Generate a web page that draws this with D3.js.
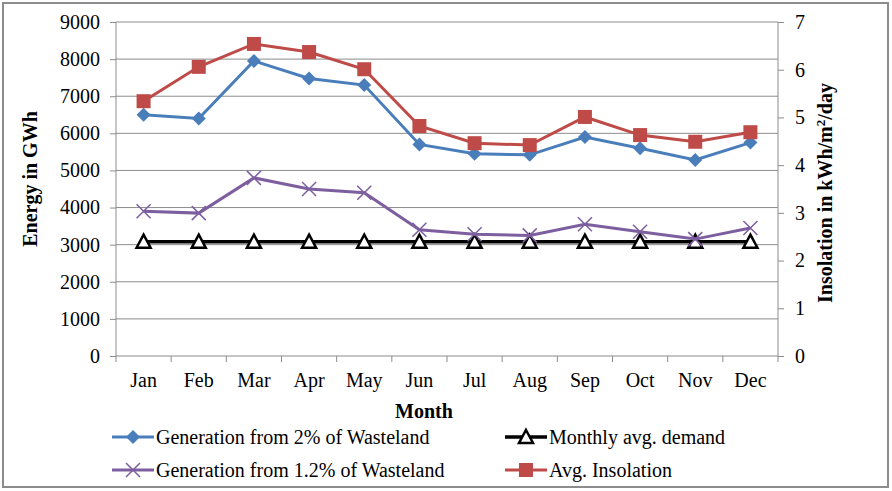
<!DOCTYPE html>
<html>
<head>
<meta charset="utf-8">
<script src="https://cdn.jsdelivr.net/npm/d3@7"></script>
<style>
  body { margin: 0; background: #fff; }
  text { font-family: "Liberation Serif", "Times New Roman", serif; fill: #000; }
</style>
</head>
<body>
<div id="chart"></div>
<script>
const months = ["Jan", "Feb", "Mar", "Apr", "May", "Jun", "Jul", "Aug", "Sep", "Oct", "Nov", "Dec"];
const gen2 = [6500, 6400, 7950, 7480, 7300, 5700, 5450, 5420, 5900, 5600, 5280, 5750];
const gen12 = [3900, 3850, 4800, 4500, 4400, 3400, 3280, 3250, 3550, 3350, 3150, 3450];
const demand = [3080, 3080, 3080, 3080, 3080, 3080, 3080, 3080, 3080, 3080, 3080, 3080];
const insolation = [5.34, 6.06, 6.54, 6.37, 6.01, 4.82, 4.46, 4.42, 5.01, 4.63, 4.49, 4.69];
const leftTicks = [0, 1000, 2000, 3000, 4000, 5000, 6000, 7000, 8000, 9000];
const rightTicks = [0, 1, 2, 3, 4, 5, 6, 7];

const width = 892, height = 491;
const plot = { left: 116, right: 778, top: 22, bottom: 356 };
const fs = 20;

const svg = d3.select("#chart").append("svg")
  .attr("width", width).attr("height", height);

// outer frame
svg.append("rect")
  .attr("x", 3).attr("y", 3).attr("width", width - 7).attr("height", height - 7)
  .attr("fill", "#fff").attr("stroke", "#8c8c8c").attr("stroke-width", 2);

const x = d3.scaleBand().domain(months).range([plot.left, plot.right]);
const yL = d3.scaleLinear().domain([0, 9000]).range([plot.bottom, plot.top]);
const yR = d3.scaleLinear().domain([0, 7]).range([plot.bottom, plot.top]);
const cx = m => x(m) + x.bandwidth() / 2;

// gridlines
svg.append("g").selectAll("line").data(leftTicks.slice(1)).enter().append("line")
  .attr("x1", plot.left).attr("x2", plot.right)
  .attr("y1", d => yL(d)).attr("y2", d => yL(d))
  .attr("stroke", "#8c8c8c").attr("stroke-width", 1);

// axes
const axL = svg.append("g").attr("transform", `translate(${plot.left},0)`)
  .call(d3.axisLeft(yL).tickValues(leftTicks).tickFormat(d3.format("d")).tickSize(6).tickPadding(10));
const axR = svg.append("g").attr("transform", `translate(${plot.right},0)`)
  .call(d3.axisRight(yR).tickValues(rightTicks).tickFormat(d3.format("d")).tickSize(6).tickPadding(11));
const axB = svg.append("g").attr("transform", `translate(0,${plot.bottom})`)
  .call(d3.axisBottom(x).tickSize(0).tickPadding(17));
axB.selectAll(".tick line").remove();
axB.append("g").selectAll("line").data(d3.range(13)).enter().append("line")
  .attr("x1", i => plot.left + i * x.bandwidth()).attr("x2", i => plot.left + i * x.bandwidth())
  .attr("y1", 0).attr("y2", 6).attr("stroke", "#8c8c8c");

[axL, axR, axB].forEach(a => {
  a.attr("font-family", null).attr("font-size", null);
  a.select(".domain").attr("stroke", "#8c8c8c");
  a.selectAll(".tick line").attr("stroke", "#8c8c8c");
  a.selectAll("text").attr("font-size", fs).attr("fill", "#000");
});
axL.select(".domain").attr("d", `M0,${plot.bottom}V${plot.top}`);
axR.select(".domain").attr("d", `M0,${plot.bottom}V${plot.top}`);
axB.select(".domain").attr("d", `M${plot.left},0H${plot.right}`);

// axis titles
svg.append("text").attr("transform", `translate(37,179) rotate(-90)`)
  .attr("text-anchor", "middle").attr("font-size", fs).attr("font-weight", "bold")
  .text("Energy in GWh");
const rt = svg.append("text").attr("transform", `translate(832,193) rotate(-90)`)
  .attr("text-anchor", "middle").attr("font-size", fs).attr("font-weight", "bold");
rt.append("tspan").text("Insolation in kWh/m");
rt.append("tspan").attr("font-size", 13).attr("dy", -7).text("2");
rt.append("tspan").attr("dy", 7).text("/day");
svg.append("text").attr("x", 424).attr("y", 418).attr("text-anchor", "middle")
  .attr("font-size", fs).attr("font-weight", "bold").text("Month");

// markers
function drawMarker(g, type, color) {
  if (type === "diamond") {
    g.append("path").attr("d", "M0,-7L7,0L0,7L-7,0Z").attr("fill", color);
  } else if (type === "square") {
    g.append("rect").attr("x", -7).attr("y", -7).attr("width", 14).attr("height", 14).attr("fill", color);
  } else if (type === "triangle") {
    g.append("path").attr("d", "M0,-7L7,6L-7,6Z").attr("fill", "#fff")
      .attr("stroke", color).attr("stroke-width", 2.5);
  } else if (type === "x") {
    g.append("path").attr("d", "M-7,-7L7,7M-7,7L7,-7").attr("stroke", color).attr("stroke-width", 1.5);
  }
}

const series = [
  { name: "Generation from 2% of Wasteland", values: gen2, y: yL, color: "#4a7ebb", marker: "diamond", w: 3 },
  { name: "Generation from 1.2% of Wasteland", values: gen12, y: yL, color: "#7d5fa0", marker: "x", w: 3 },
  { name: "Monthly avg. demand", values: demand, y: yL, color: "#000", marker: "triangle", w: 3.5 },
  { name: "Avg. Insolation", values: insolation, y: yR, color: "#be4b48", marker: "square", w: 3 }
];

const drawOrder = [series[2], series[1], series[0], series[3]];
drawOrder.forEach(s => {
  const line = d3.line().x((d, i) => cx(months[i])).y(d => s.y(d));
  svg.append("path").datum(s.values).attr("d", line)
    .attr("fill", "none").attr("stroke", s.color).attr("stroke-width", s.w);
  s.values.forEach((v, i) => {
    const g = svg.append("g").attr("transform", `translate(${cx(months[i])},${s.y(v)})`);
    drawMarker(g, s.marker, s.color);
  });
});

// legend
const legendPos = [[112, 437], [505, 437], [112, 470], [505, 470]];
const legendSeries = [series[0], series[2], series[1], series[3]];
legendSeries.forEach((s, i) => {
  const [lx, ly] = legendPos[i];
  const g = svg.append("g").attr("transform", `translate(${lx},${ly})`);
  g.append("line").attr("x1", 0).attr("x2", 42).attr("y1", 0).attr("y2", 0)
    .attr("stroke", s.color).attr("stroke-width", s.w);
  drawMarker(g.append("g").attr("transform", "translate(21,0)"), s.marker, s.color);
  g.append("text").attr("x", 44).attr("y", 7).attr("font-size", fs).text(s.name);
});
</script>
</body>
</html>
